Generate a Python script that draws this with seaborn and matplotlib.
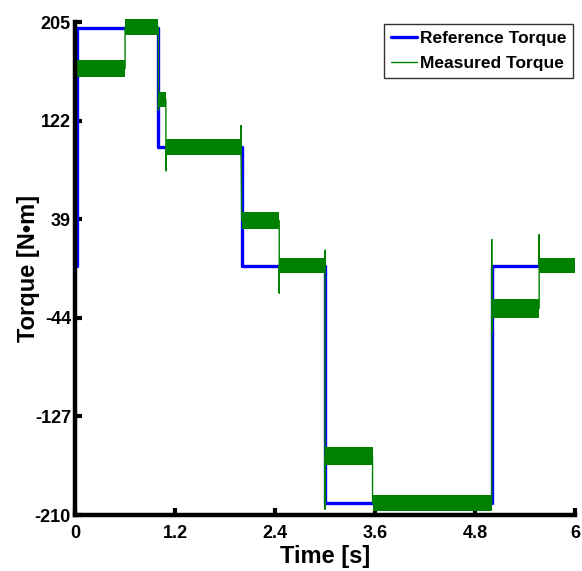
import numpy as np
import pandas as pd
import matplotlib
matplotlib.use("Agg")
import matplotlib.pyplot as plt
import seaborn as sns

# ---- data ----
ref_t = [0.0, 0.02, 0.02, 1.0, 1.0, 2.0, 2.0, 3.0, 3.0, 5.0, 5.0, 6.0]
ref_v = [0, 0, 200, 200, 100, 100, 0, 0, -200, -200, 0, 0]

# measured torque: mean trace including overshoot spikes at the transitions
meas_t = [0.0, 0.005, 0.01, 0.6, 0.6, 1.0, 1.0, 1.0, 1.09, 1.09, 1.09,
          1.99, 1.99, 2.0, 2.45, 2.45, 2.45, 2.45, 3.0, 3.0, 3.0, 3.0,
          3.57, 3.57, 5.0, 5.0, 5.0, 5.0, 5.57, 5.57, 5.57, 6.0]
meas_v = [0, 205, 166, 166, 201, 201, 131, 140, 140, 80, 100,
          100, 118, 38, 38, 12, -23, 0, 0, 13, -205, -160,
          -160, -200, -200, 22, -55, -36, -36, 26, 0, 0]

# measured torque ripple band: segment starts, mean levels and half-widths
seg_start = [0.01, 0.6, 1.0, 1.09, 2.0, 2.45, 3.0, 3.57, 5.0, 5.57]
seg_level = [166, 201, 140, 100, 38, 0, -160, -200, -36, 0]
seg_half = [7, 7, 6.5, 7, 7, 6.5, 7.5, 7, 8, 6.5]

x_ticks = [0, 1.2, 2.4, 3.6, 4.8, 6]
y_ticks = [-210, -127, -44, 39, 122, 205]

sns.set_theme(style="white")
plt.rcParams["font.family"] = ["Liberation Sans", "DejaVu Sans"]
plt.rcParams["font.weight"] = "bold"
plt.rcParams["text.color"] = "black"
plt.rcParams["axes.labelcolor"] = "black"
plt.rcParams["xtick.color"] = "black"
plt.rcParams["ytick.color"] = "black"

fig = plt.figure(figsize=(5.82, 5.71), dpi=100)
ax = fig.add_axes([0.129, 0.098, 0.859, 0.863])

ref_df = pd.DataFrame({"t": ref_t, "v": ref_v})
meas_df = pd.DataFrame({"t": meas_t, "v": meas_v})

sns.lineplot(data=ref_df, x="t", y="v", estimator=None, sort=False,
             color="#0000FF", linewidth=2.4, ax=ax, label="Reference Torque")

bx = seg_start + [6.0]
lo = [l - h for l, h in zip(seg_level, seg_half)]
hi = [l + h for l, h in zip(seg_level, seg_half)]
lo = lo + [lo[-1]]
hi = hi + [hi[-1]]
ax.fill_between(bx, lo, hi, step="post", color="#008000", linewidth=0, zorder=3,
                clip_on=False)

sns.lineplot(data=meas_df, x="t", y="v", estimator=None, sort=False,
             color="#008000", linewidth=1.0, ax=ax, label="Measured Torque")
ax.lines[-1].set_zorder(4)

ax.set_xlim(0, 6)
ax.set_ylim(-210, 205)
ax.set_xticks(x_ticks)
ax.set_xticklabels(["0", "1.2", "2.4", "3.6", "4.8", "6"])
ax.set_yticks(y_ticks)
ax.set_yticklabels([str(v) for v in y_ticks])

for s in ["top", "right"]:
    ax.spines[s].set_visible(False)
for s in ["left", "bottom"]:
    ax.spines[s].set_visible(True)
    ax.spines[s].set_color("black")
    ax.spines[s].set_linewidth(3.2)
    ax.spines[s].set_zorder(5)

ax.tick_params(axis="both", direction="in", length=5, width=3, color="black",
               labelsize=13, labelcolor="black", bottom=True, left=True)
ax.tick_params(axis="x", pad=7.5)
ax.tick_params(axis="y", pad=3)
for lab in ax.get_xticklabels() + ax.get_yticklabels():
    lab.set_fontweight("bold")

ax.set_xlabel("Time [s]", fontsize=17, fontweight="bold", labelpad=2, color="black")
ax.set_ylabel("Torque [N\u2022m]", fontsize=17, fontweight="bold", labelpad=-4,
              color="black")

leg = ax.legend(loc="upper right", bbox_to_anchor=(1.0, 1.0), fontsize=12.5,
                handlelength=1.5, handletextpad=0.15, borderpad=0.4,
                labelspacing=0.55, frameon=True, fancybox=False, borderaxespad=0.1)
leg.get_frame().set_edgecolor("black")
leg.get_frame().set_linewidth(1.0)
for t in leg.get_texts():
    t.set_fontweight("bold")
    t.set_color("black")
leg.set_zorder(6)

fig.savefig("out.png", dpi=100)
